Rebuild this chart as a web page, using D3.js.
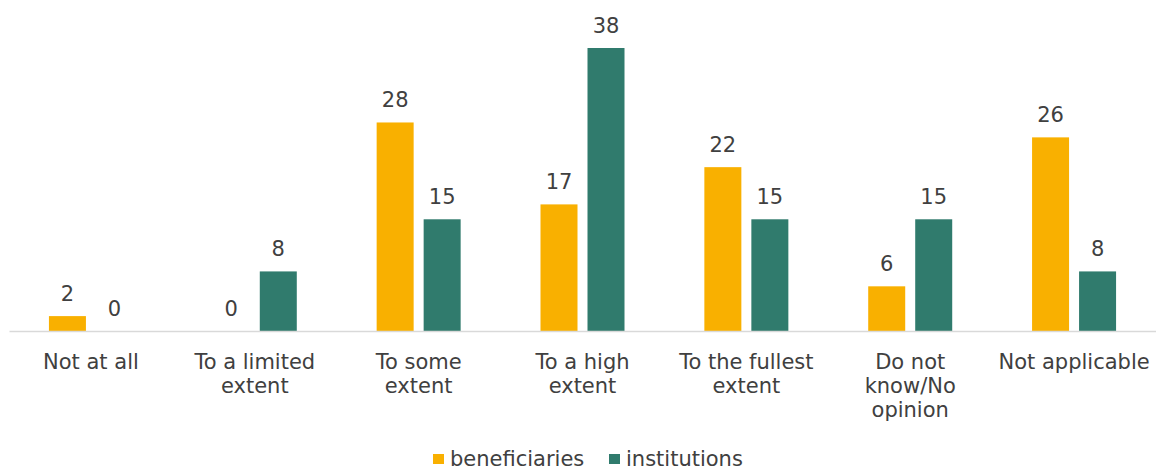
<!DOCTYPE html>
<html>
<head>
<meta charset="utf-8">
<script src="https://cdn.jsdelivr.net/npm/d3@7"></script>
<style>
  html, body { margin: 0; padding: 0; background: #fff; overflow: hidden; }
  svg { display: block; }
</style>
</head>
<body>
<svg id="chart" width="1156" height="471"></svg>
<script>
// Response categories (multi-line labels split on "|")
const categories = [
  "Not at all",
  "To a limited|extent",
  "To some|extent",
  "To a high|extent",
  "To the fullest|extent",
  "Do not|know/No|opinion",
  "Not applicable"
];
const seriesNames = ["beneficiaries", "institutions"];
const beneficiaries = [2, 0, 28, 17, 22, 6, 26];
const institutions = [0, 8, 15, 38, 15, 15, 8];
const seriesColors = ["#F9B000", "#307B6D"];

const svg = d3.select("#chart");
const W = 1156;
const left = 9, right = 0;
const baseY = 331;
const topY = 48;

const rows = categories.map((c, i) => ({ cat: c, values: [beneficiaries[i], institutions[i]] }));

const x0 = d3.scaleBand()
  .domain(categories)
  .range([left, W - right])
  .paddingInner(0)
  .paddingOuter(0);

const barW = 37, gap = 10;
const x1 = d3.scaleOrdinal()
  .domain(seriesNames)
  .range([-gap / 2 - barW, gap / 2]);

const y = d3.scaleLinear().domain([0, 38]).range([baseY, topY]);

const font = "'DejaVu Sans', Verdana, sans-serif";
const fs = 21;

// Bars
const groups = svg.append("g").selectAll("g")
  .data(rows).join("g")
  .attr("transform", d => `translate(${x0(d.cat) + x0.bandwidth() / 2},0)`);

groups.selectAll("rect")
  .data(d => d.values.map((v, k) => ({ key: seriesNames[k], v, k })))
  .join("rect")
  .attr("x", d => x1(d.key))
  .attr("y", d => y(d.v))
  .attr("width", barW)
  .attr("height", d => y(0) - y(d.v))
  .attr("fill", d => seriesColors[d.k]);

// Value labels
groups.selectAll("text.val")
  .data(d => d.values.map((v, k) => ({ key: seriesNames[k], v, k })))
  .join("text")
  .attr("class", "val")
  .attr("x", d => x1(d.key) + barW / 2)
  .attr("y", d => y(d.v) - 15)
  .attr("text-anchor", "middle")
  .attr("font-family", font)
  .attr("font-size", fs)
  .attr("fill", "#404040")
  .text(d => d.v);

// Category axis
const axis = d3.axisBottom(x0).tickSize(0).tickFormat("");
const axisG = svg.append("g").attr("transform", `translate(0,${baseY})`).call(axis);
axisG.select(".domain").attr("stroke", "#d9d9d9").attr("stroke-width", 1.5);

const tickLabels = svg.append("g").selectAll("text")
  .data(categories).join("text")
  .attr("x", d => x0(d) + x0.bandwidth() / 2)
  .attr("y", 369)
  .attr("text-anchor", "middle")
  .attr("font-family", font)
  .attr("font-size", fs)
  .attr("fill", "#404040");
tickLabels.each(function (d) {
  const t = d3.select(this);
  d.split("|").forEach((line, i) => {
    t.append("tspan")
      .attr("x", x0(d) + x0.bandwidth() / 2)
      .attr("dy", i === 0 ? 0 : 24)
      .text(line);
  });
});

// Legend
const legendItems = [
  { name: seriesNames[0], color: seriesColors[0], x: 433 },
  { name: seriesNames[1], color: seriesColors[1], x: 609 }
];
const lg = svg.append("g").selectAll("g").data(legendItems).join("g")
  .attr("transform", d => `translate(${d.x},0)`);
lg.append("rect").attr("x", 0).attr("y", 454).attr("width", 11).attr("height", 10)
  .attr("fill", d => d.color);
lg.append("text").attr("x", 17).attr("y", 466)
  .attr("font-family", font).attr("font-size", fs).attr("fill", "#404040")
  .text(d => d.name);
</script>
</body>
</html>
